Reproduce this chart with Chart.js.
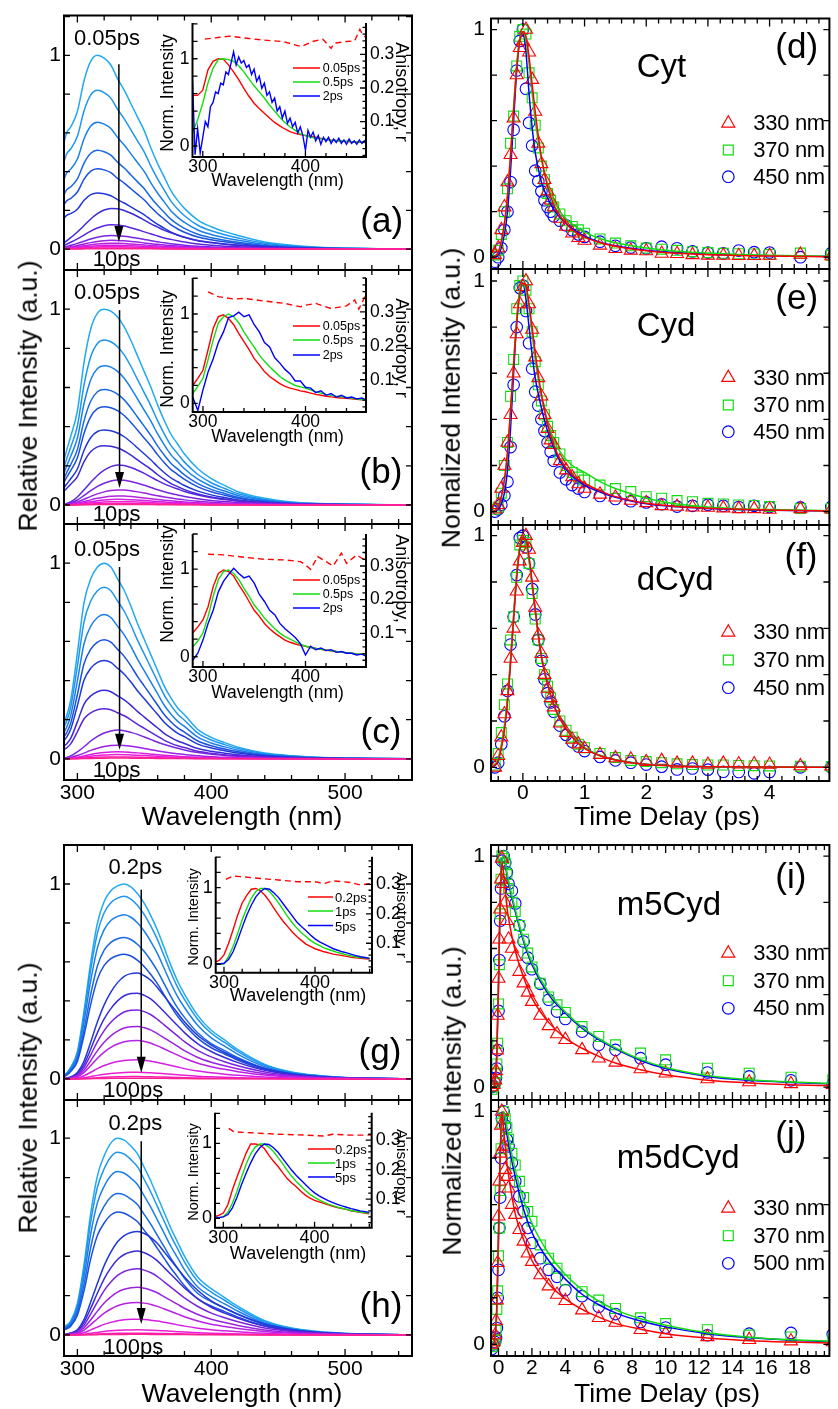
<!DOCTYPE html>
<html>
<head>
<meta charset="utf-8">
<title>Time-resolved fluorescence of cytosine derivatives</title>
<script src="https://cdn.jsdelivr.net/npm/chart.js@4.4.1/dist/chart.umd.min.js"></script>
<style>
  html, body { margin: 0; padding: 0; background: #fff; }
  body { position: relative; width: 838px; height: 1409px; overflow: hidden;
         font-family: "Liberation Sans", Arial, Helvetica, sans-serif; }
  canvas { position: absolute; left: 0; top: 0; }
  .t { position: absolute; white-space: nowrap; line-height: 1; color: #000; }
</style>
</head>
<body>
<script>
// ---------- spectra (left column) ----------
const WL = [290,292,295,300,305,310,315,320,325,330,335,340,345,350,355,360,365,370,375,380,390,400,410,420,440,460,480,500,525,550];

const A_EARLY = [0.55,0.6,0.63,0.71,0.87,0.97,1.0,0.985,0.95,0.88,0.82,0.75,0.68,0.61,0.52,0.44,0.37,0.3,0.25,0.21,0.15,0.115,0.09,0.07,0.037,0.02,0.01,0.005,0.002,0.0];
const A_LATE  = [0.15,0.2,0.28,0.42,0.58,0.74,0.87,0.96,1.0,0.99,0.95,0.88,0.8,0.71,0.62,0.54,0.46,0.4,0.34,0.29,0.21,0.16,0.12,0.095,0.055,0.03,0.016,0.008,0.003,0.0];
const AMP_A = [1.0,0.82,0.655,0.51,0.415,0.29,0.21,0.125,0.07,0.045,0.03,0.02,0.012,0.006,0.002];

const B_EARLY = [0.23,0.28,0.35,0.48,0.73,0.9,0.98,1.0,0.99,0.96,0.91,0.84,0.76,0.68,0.6,0.51,0.43,0.36,0.31,0.26,0.185,0.135,0.1,0.068,0.034,0.015,0.008,0.005,0.002,0.0];
const B_LATE  = [0.02,0.04,0.08,0.2,0.38,0.57,0.74,0.87,0.96,1.0,0.99,0.94,0.87,0.79,0.7,0.61,0.53,0.46,0.4,0.34,0.25,0.18,0.135,0.1,0.055,0.03,0.016,0.008,0.003,0.0];
const AMP_B = [1.0,0.842,0.711,0.59,0.502,0.383,0.303,0.204,0.128,0.077,0.046,0.029,0.017,0.008,0.003];

const C_EARLY = [0.185,0.22,0.3,0.54,0.8,0.92,0.98,1.0,0.98,0.92,0.86,0.78,0.69,0.61,0.53,0.45,0.37,0.31,0.26,0.225,0.15,0.11,0.083,0.06,0.03,0.016,0.008,0.004,0.002,0.0];
const C_LATE  = [0.03,0.05,0.1,0.24,0.42,0.62,0.78,0.9,0.97,1.0,0.98,0.92,0.85,0.76,0.67,0.58,0.5,0.43,0.37,0.31,0.22,0.16,0.12,0.09,0.05,0.027,0.014,0.007,0.003,0.0];
const AMP_C = [1.0,0.877,0.737,0.609,0.503,0.35,0.256,0.147,0.07,0.036,0.022,0.01,0.004];

const G_EARLY = [0.02,0.03,0.06,0.14,0.35,0.6,0.8,0.91,0.965,0.99,1.0,0.985,0.95,0.9,0.835,0.76,0.67,0.58,0.5,0.435,0.325,0.25,0.2,0.15,0.075,0.036,0.018,0.008,0.003,0.0];
const G_LATE  = [0.0,0.01,0.02,0.06,0.17,0.35,0.54,0.7,0.82,0.91,0.97,0.995,1.0,0.975,0.93,0.86,0.78,0.7,0.62,0.54,0.41,0.32,0.25,0.19,0.1,0.05,0.024,0.011,0.004,0.0];
const AMP_G = [1.0,0.937,0.842,0.726,0.64,0.543,0.44,0.354,0.269,0.197,0.098,0.034,0.012,0.004];

const H_EARLY = [0.04,0.05,0.07,0.16,0.36,0.62,0.81,0.91,0.975,1.0,0.99,0.96,0.92,0.85,0.78,0.7,0.62,0.54,0.47,0.4,0.293,0.235,0.19,0.145,0.072,0.035,0.017,0.008,0.003,0.0];
const H_LATE  = [0.0,0.01,0.02,0.05,0.15,0.32,0.5,0.67,0.8,0.9,0.96,0.99,1.0,0.98,0.94,0.88,0.8,0.72,0.64,0.56,0.43,0.33,0.26,0.2,0.105,0.052,0.025,0.011,0.004,0.0];
const AMP_H = [1.0,0.928,0.83,0.719,0.625,0.526,0.426,0.336,0.242,0.165,0.08,0.026,0.009,0.003];

// arrow: [wavelength, from, to]
const ARROW_A = [331, 0.954, 0.036];
const ARROW_B = [331.5, 0.995, 0.087];
const ARROW_C = [331.5, 0.98, 0.046];
const ARROW_G = [347.7, 0.97, 0.032];
const ARROW_H = [347.7, 0.985, 0.055];

// ---------- insets ----------
const WLI = [290,295,300,305,310,315,320,325,330,335,340,345,350,355,360,365,370,375,380,385,390,395,400,405,410,415,420,425,430,435,440,445,450,455,460];
const WLN = [290,292.5,295,297.5,300,302.5,305,307.5,310,312.5,315,317.5,320,322.5,325,327.5,330,332.5,335,337.5,340,342.5,345,347.5,350,352.5,355,357.5,360,362.5,365,367.5,370,372.5,375,377.5,380,382.5,385,387.5,390,392.5,395,397.5,400,402.5,405,407.5,410,412.5,415,417.5,420,422.5,425,427.5,430,432.5,435,437.5,440,442.5,445,447.5,450,452.5,455,457.5,460];

const IA_RED = [0.58,0.58,0.64,0.87,0.97,1.0,0.996,0.93,0.85,0.76,0.66,0.57,0.49,0.43,0.375,0.32,0.27,0.23,0.195,0.165,0.145,0.13,0.12,0.11,0.1,0.088,0.076,0.068,0.062,0.057,0.052,0.048,0.045,0.042,0.04];
const IA_GRN = [0.15,0.3,0.49,0.72,0.89,0.99,1.0,0.99,0.97,0.92,0.85,0.77,0.69,0.62,0.55,0.47,0.4,0.33,0.27,0.22,0.18,0.14,0.12,0.1,0.09,0.082,0.075,0.068,0.063,0.058,0.054,0.05,0.047,0.044,0.04];
const IA_BLU = [0.75,-0.1,0.2,-0.08,0.1,0.28,0.22,0.45,0.5,0.62,0.6,0.72,0.7,0.85,0.82,0.95,1.08,0.93,1.02,0.95,0.98,0.9,0.93,0.82,0.88,0.74,0.8,0.66,0.72,0.58,0.62,0.5,0.55,0.4,0.45,0.32,0.4,0.26,0.32,0.22,0.27,0.15,0.22,0.12,-0.05,0.18,0.1,0.16,0.06,0.12,0.02,0.1,0.05,0.1,0.03,0.08,0.04,0.09,0.03,0.07,0.02,0.08,0.03,0.06,0.02,0.07,0.03,0.06,0.04];
const ANI_A_WL = [302,315,326,345,360,378,396,407,417,425,428,440,448,453,456,459];
const ANI_A = [0.345,0.35,0.354,0.347,0.342,0.338,0.323,0.338,0.345,0.318,0.333,0.338,0.34,0.374,0.357,0.35];

const IB_RED = [0.2,0.28,0.37,0.6,0.84,0.97,0.99,0.95,0.88,0.78,0.69,0.6,0.5,0.43,0.355,0.3,0.26,0.22,0.19,0.17,0.157,0.14,0.13,0.115,0.1,0.09,0.08,0.072,0.066,0.06,0.056,0.05,0.045,0.04,0.037];
const IB_GRN = [0.11,0.19,0.28,0.49,0.71,0.9,0.97,1.0,0.97,0.9,0.8,0.71,0.63,0.54,0.47,0.41,0.355,0.3,0.26,0.23,0.2,0.185,0.17,0.15,0.13,0.115,0.1,0.09,0.08,0.072,0.067,0.06,0.05,0.043,0.037];
const IB_BLU = [0.07,-0.08,0.15,0.35,0.5,0.68,0.8,0.96,0.98,1.02,0.97,0.99,0.88,0.8,0.68,0.63,0.51,0.45,0.38,0.33,0.25,0.25,0.18,0.17,0.12,0.14,0.09,0.11,0.07,0.09,0.06,0.07,0.05,0.06,0.03];
const ANI_B_WL = [305,315,330,340,360,380,395,400,410,425,440,448,452,458];
const ANI_B = [0.359,0.345,0.338,0.34,0.332,0.325,0.315,0.32,0.325,0.31,0.318,0.335,0.308,0.345];

const IC_RED = [0.27,0.34,0.42,0.57,0.8,0.95,0.99,0.97,0.92,0.82,0.73,0.63,0.53,0.46,0.38,0.32,0.27,0.23,0.19,0.165,0.145,0.13,0.12,0.105,0.095,0.085,0.076,0.068,0.06,0.053,0.046,0.04,0.033,0.028,0.023];
const IC_GRN = [0.11,0.18,0.27,0.46,0.69,0.88,0.97,0.99,0.95,0.88,0.78,0.69,0.59,0.52,0.44,0.38,0.32,0.27,0.23,0.2,0.17,0.145,0.12,0.105,0.095,0.085,0.076,0.068,0.06,0.053,0.046,0.04,0.033,0.028,0.023];
const IC_BLU = [-0.04,0.04,0.19,0.38,0.53,0.74,0.86,0.94,1.01,0.95,0.9,0.92,0.84,0.71,0.63,0.53,0.48,0.38,0.32,0.27,0.22,0.15,0.02,0.12,0.08,0.1,0.07,0.08,0.05,0.06,0.04,0.04,0.02,0.03,0.0];
const ANI_C_WL = [305,320,340,360,380,395,400,405,412,420,427,435,440,450,460];
const ANI_C = [0.335,0.333,0.326,0.32,0.318,0.313,0.303,0.29,0.328,0.313,0.3,0.338,0.308,0.333,0.313];

const IG_RED = [0.02,0.05,0.12,0.27,0.45,0.64,0.8,0.9,0.98,0.99,0.96,0.9,0.82,0.73,0.64,0.56,0.49,0.42,0.36,0.31,0.26,0.23,0.2,0.18,0.16,0.145,0.13,0.12,0.11,0.1,0.087,0.08,0.074,0.069,0.065];
const IG_GRN = [0.0,0.0,0.0,0.1,0.23,0.4,0.58,0.73,0.86,0.95,0.99,0.99,0.95,0.88,0.8,0.71,0.62,0.54,0.47,0.41,0.36,0.31,0.27,0.24,0.21,0.19,0.17,0.15,0.135,0.12,0.105,0.095,0.086,0.08,0.074];
const IG_BLU = [-0.01,0.0,0.01,0.06,0.16,0.31,0.48,0.64,0.77,0.88,0.95,0.99,0.98,0.93,0.87,0.79,0.71,0.63,0.55,0.49,0.44,0.38,0.33,0.29,0.26,0.23,0.2,0.18,0.16,0.145,0.127,0.11,0.095,0.085,0.074];
const ANI_G_WL = [302,310,320,340,360,380,400,410,420,440,450,462];
const ANI_G = [0.317,0.328,0.326,0.32,0.315,0.309,0.309,0.303,0.312,0.306,0.298,0.303];

const IH_RED = [0.02,0.04,0.07,0.18,0.38,0.55,0.71,0.87,0.99,0.99,0.98,0.93,0.84,0.76,0.69,0.61,0.53,0.47,0.42,0.36,0.31,0.27,0.24,0.22,0.2,0.18,0.16,0.145,0.13,0.12,0.1,0.09,0.08,0.07,0.06];
const IH_GRN = [0.0,0.01,0.02,0.08,0.2,0.36,0.55,0.72,0.86,0.95,0.99,0.99,0.95,0.89,0.81,0.73,0.64,0.56,0.49,0.43,0.37,0.32,0.28,0.245,0.215,0.19,0.17,0.15,0.135,0.12,0.105,0.095,0.085,0.078,0.07];
const IH_BLU = [0.01,0.01,0.02,0.05,0.14,0.28,0.45,0.6,0.74,0.86,0.94,0.99,0.985,0.94,0.88,0.8,0.72,0.64,0.57,0.51,0.45,0.39,0.34,0.3,0.265,0.235,0.21,0.185,0.165,0.148,0.13,0.115,0.1,0.09,0.08];
const ANI_H_WL = [306,312,330,360,390,410,420,440,462];
const ANI_H = [0.34,0.328,0.325,0.32,0.317,0.314,0.32,0.317,0.317];

// ---------- decays (right column) ----------
const T_D = [-0.45,-0.4,-0.35,-0.3,-0.25,-0.2,-0.15,-0.1,-0.05,0,0.05,0.1,0.15,0.2,0.25,0.3,0.35,0.4,0.45,0.5,0.6,0.7,0.8,0.9,1.0,1.25,1.5,1.75,2.0,2.25,2.5,2.75,3.0,3.25,3.5,3.75,4.0,4.5,5.0];
const TF_D = [-0.5,-0.4,-0.3,-0.25,-0.2,-0.15,-0.1,-0.05,0,0.05,0.1,0.15,0.2,0.3,0.4,0.5,0.6,0.8,1.0,1.25,1.5,2,2.5,3,3.5,4,5];

const D330 = [0.01,0.04,0.12,0.22,0.33,0.45,0.61,0.8,0.92,0.95,1.0,0.9,0.78,0.64,0.5,0.41,0.34,0.29,0.25,0.22,0.17,0.135,0.105,0.085,0.073,0.052,0.037,0.03,0.027,0.016,0.015,0.01,0.008,0.007,0.006,0.006,0.007,0.012,0.005];
const D370 = [0.01,0.03,0.1,0.2,0.3,0.5,0.62,0.84,0.97,1.0,0.98,0.81,0.7,0.58,0.48,0.4,0.34,0.28,0.25,0.22,0.19,0.16,0.135,0.12,0.105,0.08,0.062,0.05,0.04,0.035,0.03,0.024,0.02,0.017,0.015,0.014,0.012,0.018,0.008];
const D450 = [-0.02,0.0,0.04,0.12,0.2,0.33,0.56,0.82,0.95,1.0,0.74,0.59,0.49,0.38,0.334,0.29,0.25,0.22,0.2,0.18,0.16,0.14,0.118,0.1,0.089,0.068,0.05,0.042,0.039,0.046,0.039,0.025,0.02,0.017,0.029,0.022,0.02,0.0,0.017];
const FD330 = [0.0,0.02,0.15,0.27,0.45,0.65,0.83,0.95,0.99,0.97,0.88,0.76,0.64,0.44,0.31,0.23,0.18,0.12,0.088,0.064,0.048,0.028,0.017,0.011,0.007,0.005,0.002];
const FD370 = [0.0,0.02,0.14,0.27,0.45,0.66,0.85,0.96,0.99,0.95,0.85,0.72,0.6,0.43,0.32,0.25,0.2,0.145,0.11,0.082,0.063,0.04,0.026,0.018,0.012,0.008,0.004];
const FD450 = [0.0,0.01,0.1,0.2,0.38,0.6,0.82,0.96,0.99,0.9,0.72,0.57,0.46,0.33,0.26,0.21,0.175,0.125,0.092,0.066,0.05,0.03,0.02,0.013,0.009,0.006,0.003];

const E330 = [0.01,0.03,0.1,0.2,0.3,0.42,0.6,0.77,0.9,0.975,1.0,0.9,0.79,0.67,0.58,0.5,0.42,0.36,0.31,0.29,0.22,0.18,0.15,0.12,0.1,0.075,0.062,0.048,0.038,0.025,0.022,0.019,0.018,0.015,0.012,0.012,0.009,0.012,0.01];
const E370 = [0.01,0.02,0.08,0.2,0.3,0.5,0.66,0.88,0.98,1.0,0.96,0.88,0.78,0.65,0.55,0.48,0.42,0.37,0.33,0.3,0.25,0.2,0.17,0.15,0.137,0.115,0.1,0.087,0.065,0.058,0.048,0.043,0.036,0.033,0.029,0.027,0.022,0.014,0.014];
const E450 = [0.0,0.01,0.03,0.07,0.13,0.28,0.55,0.8,0.97,0.98,0.87,0.73,0.62,0.52,0.46,0.4,0.35,0.3,0.26,0.22,0.17,0.14,0.115,0.1,0.085,0.068,0.055,0.045,0.04,0.032,0.022,0.025,0.03,0.025,0.02,0.025,0.02,0.018,0.02];
const FE330 = [0.0,0.02,0.14,0.26,0.44,0.64,0.82,0.94,0.99,0.98,0.9,0.8,0.69,0.51,0.38,0.29,0.23,0.16,0.123,0.09,0.065,0.036,0.022,0.015,0.01,0.007,0.003];
const FE370 = [0.0,0.02,0.13,0.25,0.44,0.65,0.84,0.96,0.99,0.96,0.88,0.77,0.66,0.5,0.39,0.31,0.26,0.2,0.17,0.13,0.1,0.058,0.033,0.02,0.013,0.009,0.004];
const FE450 = [0.0,0.01,0.08,0.18,0.36,0.6,0.82,0.96,0.99,0.92,0.8,0.68,0.58,0.45,0.35,0.28,0.22,0.155,0.115,0.085,0.062,0.034,0.021,0.014,0.009,0.006,0.003];

const F330 = [0.0,0.05,0.13,0.23,0.33,0.47,0.6,0.76,0.89,0.97,1.0,0.94,0.82,0.69,0.57,0.49,0.4,0.34,0.3,0.26,0.19,0.15,0.12,0.1,0.08,0.055,0.04,0.035,0.024,0.029,0.017,0.017,0.012,0.017,0.014,0.014,0.012,0.006,0.005];
const F370 = [0.01,0.06,0.15,0.27,0.36,0.55,0.65,0.82,0.96,0.98,0.97,0.88,0.75,0.64,0.55,0.47,0.4,0.35,0.3,0.25,0.2,0.16,0.13,0.1,0.085,0.06,0.042,0.03,0.025,0.02,0.015,0.012,0.01,0.01,0.008,0.007,0.006,0.005,0.004];
const F450 = [0.0,0.02,0.1,0.22,0.33,0.53,0.65,0.83,0.99,1.0,0.95,0.88,0.77,0.66,0.55,0.46,0.38,0.32,0.28,0.24,0.18,0.14,0.11,0.09,0.07,0.045,0.03,0.02,0.012,0.003,-0.009,-0.005,-0.01,-0.019,-0.02,-0.026,-0.02,0.0,0.0];
const FF330 = [0.0,0.03,0.16,0.28,0.45,0.64,0.82,0.94,0.99,0.98,0.91,0.8,0.68,0.48,0.36,0.27,0.21,0.13,0.082,0.05,0.032,0.012,0.006,0.003,0.002,0.001,0.0];
const FF370 = [0.0,0.04,0.18,0.3,0.47,0.66,0.84,0.95,0.99,0.97,0.89,0.78,0.67,0.48,0.36,0.27,0.21,0.135,0.085,0.052,0.033,0.013,0.006,0.003,0.002,0.001,0.0];
const FF450 = [0.0,0.03,0.17,0.29,0.46,0.65,0.83,0.95,0.99,0.97,0.9,0.79,0.68,0.48,0.36,0.27,0.21,0.133,0.084,0.051,0.033,0.013,0.006,0.003,0.002,0.001,0.0];

const T_I = [-0.4,-0.3,-0.2,-0.15,-0.1,-0.05,0,0.05,0.1,0.15,0.2,0.3,0.4,0.5,0.6,0.8,1.0,1.25,1.5,1.75,2,2.5,3,3.5,4,5,6,7,8.5,10,12.5,15,17.5,20];
const TF_I = [-0.5,-0.3,-0.2,-0.1,0,0.1,0.2,0.3,0.5,0.7,1,1.5,2,3,4,5,6,7,8.5,10,12.5,15,17.5,20];

const I330 = [0.0,0.01,0.03,0.07,0.16,0.31,0.47,0.64,0.77,0.9,0.99,0.88,0.8,0.72,0.64,0.6,0.565,0.5,0.45,0.41,0.37,0.31,0.265,0.23,0.205,0.161,0.125,0.107,0.078,0.06,0.035,0.022,0.014,0.01];
const I370 = [-0.01,0.0,0.02,0.06,0.1,0.19,0.36,0.53,0.75,0.9,1.0,0.99,0.97,0.92,0.86,0.8,0.76,0.7,0.64,0.58,0.52,0.45,0.39,0.356,0.323,0.262,0.219,0.183,0.147,0.118,0.082,0.06,0.043,0.032];
const I450 = [0.0,0.005,0.02,0.04,0.08,0.16,0.33,0.55,0.72,0.86,0.98,1.0,0.97,0.93,0.88,0.85,0.795,0.7,0.63,0.56,0.51,0.447,0.378,0.327,0.295,0.24,0.183,0.161,0.125,0.097,0.063,0.046,0.029,0.014];
const FI330 = [0.0,0.0,0.03,0.15,0.45,0.8,0.97,0.93,0.78,0.69,0.59,0.475,0.385,0.28,0.212,0.168,0.133,0.104,0.075,0.053,0.03,0.018,0.01,0.006];
const FI370 = [0.0,0.0,0.03,0.15,0.45,0.82,0.98,1.0,0.93,0.86,0.77,0.64,0.54,0.41,0.325,0.26,0.21,0.17,0.12,0.085,0.05,0.032,0.022,0.015];
const FI450 = [0.0,0.0,0.03,0.15,0.45,0.82,0.98,1.0,0.92,0.85,0.76,0.63,0.53,0.4,0.32,0.255,0.205,0.165,0.115,0.08,0.046,0.029,0.02,0.014];

const J330 = [0.0,0.01,0.04,0.1,0.19,0.35,0.55,0.7,0.82,0.94,1.0,0.85,0.75,0.72,0.67,0.6,0.557,0.492,0.442,0.391,0.355,0.298,0.25,0.214,0.187,0.147,0.114,0.094,0.063,0.046,0.032,0.02,0.014,0.01];
const J370 = [-0.01,0.0,0.02,0.06,0.15,0.23,0.38,0.5,0.66,0.84,0.95,1.0,0.97,0.93,0.88,0.82,0.77,0.7,0.63,0.57,0.528,0.427,0.37,0.327,0.276,0.226,0.19,0.154,0.114,0.089,0.063,0.04,0.032,0.02];
const J500 = [-0.02,0.0,0.01,0.03,0.07,0.2,0.32,0.5,0.63,0.8,0.97,1.0,0.94,0.88,0.85,0.78,0.7,0.636,0.571,0.5,0.435,0.37,0.32,0.29,0.233,0.207,0.161,0.13,0.096,0.072,0.039,0.046,0.049,0.043];
const FJ330 = [0.0,0.0,0.04,0.18,0.5,0.82,1.0,0.93,0.78,0.68,0.56,0.45,0.36,0.26,0.195,0.15,0.117,0.09,0.065,0.046,0.027,0.016,0.01,0.006];
const FJ370 = [0.0,0.0,0.03,0.15,0.45,0.8,0.97,1.0,0.93,0.85,0.75,0.62,0.52,0.39,0.3,0.235,0.185,0.148,0.11,0.082,0.05,0.031,0.02,0.013];
const FJ500 = [0.0,0.0,0.03,0.15,0.45,0.8,0.97,1.0,0.9,0.82,0.72,0.58,0.48,0.36,0.28,0.215,0.17,0.135,0.1,0.075,0.046,0.029,0.018,0.012];

// ---------- tick labels ----------
const WL_TICKS = [300, 400, 500];
const WLI_TICKS = [300, 400];
const INT_TICKS = [0, 1];
const ANI_TICKS = [0.1, 0.2, 0.3];
const DELAY_TICKS = [0, 1, 2, 3, 4];
const DELAY_TICKS_LONG = [0, 2, 4, 6, 8, 10, 12, 14, 16, 18];

// ---------- styling ----------
const W = 838, H = 1409;
const FONT = '"Liberation Sans", Arial, Helvetica, sans-serif';
const PALETTE = ['#22aaf0','#1e95ee','#1b7fea','#1a68e4','#1b50de','#2038d8','#3a2ad8','#5a26dc','#7a24e0','#9a22e2','#b820e4','#d41ee2','#ec1cd4','#fa1cb4','#ff2090'];
const RED = '#ff0000', GREEN = '#11dd11', BLUE = '#0000ff';
const MARKS = [
  {style: 'triangle', r: 7.5, color: RED},
  {style: 'rect', r: 7, color: GREEN},
  {style: 'circle', r: 5.8, color: BLUE}
];
Chart.defaults.font.family = FONT;
Chart.defaults.color = '#000';

function pts(xs, ys) { return xs.map((x, i) => ({x: x, y: ys[i]})); }
function stepTicks(min, max, step) {
  const out = [];
  for (let k = Math.ceil(min / step - 1e-9); k <= Math.floor(max / step + 1e-9); k++) out.push(+(k * step).toFixed(6));
  return out;
}
function hasTick(list, v) { return list.some(m => Math.abs(m - v) < 1e-6); }

function axis(o) {
  return {
    type: 'linear', position: o.pos, min: o.min, max: o.max, bounds: 'data',
    grid: {display: false, drawTicks: false}, border: {display: false},
    afterBuildTicks: s => { s.ticks = stepTicks(o.min, o.max, o.step).map(v => ({value: v})); },
    afterFit: s => { if (s.isHorizontal()) s.height = o.size; else s.width = o.size; },
    ticks: {
      display: o.show !== false, autoSkip: false, maxRotation: 0, minRotation: 0,
      padding: o.pad, color: '#000', font: {size: o.font, family: FONT},
      callback: v => hasTick(o.labels, v) ? String(v) : ''
    }
  };
}

// inward ticks, frame lines and extra drawing
function framePlugin(conf) {
  return {
    id: 'frame',
    afterDraw(chart) {
      const ctx = chart.ctx, a = chart.chartArea;
      ctx.save();
      ctx.strokeStyle = '#000';
      ctx.lineWidth = 1.3;
      ctx.beginPath();
      conf.ticks.forEach(t => {
        const s = chart.scales[t.axis];
        s.ticks.forEach(tk => {
          const len = hasTick(t.major, tk.value) ? t.len : t.minor;
          const p = s.getPixelForValue(tk.value);
          if (s.isHorizontal()) {
            ctx.moveTo(p, a.bottom); ctx.lineTo(p, a.bottom - len);
            if (t.mirror) { ctx.moveTo(p, a.top); ctx.lineTo(p, a.top + len); }
          } else if (s.position === 'left') {
            ctx.moveTo(a.left, p); ctx.lineTo(a.left + len, p);
            if (t.mirror) { ctx.moveTo(a.right, p); ctx.lineTo(a.right - len, p); }
          } else {
            ctx.moveTo(a.right, p); ctx.lineTo(a.right - len, p);
          }
        });
      });
      ctx.stroke();
      ctx.lineWidth = 2;
      ctx.beginPath();
      if (conf.sides.includes('top')) { ctx.moveTo(a.left - 1, a.top); ctx.lineTo(a.right + 1, a.top); }
      if (conf.sides.includes('bottom')) { ctx.moveTo(a.left - 1, a.bottom); ctx.lineTo(a.right + 1, a.bottom); }
      if (conf.sides.includes('left')) { ctx.moveTo(a.left, a.top); ctx.lineTo(a.left, a.bottom); }
      if (conf.sides.includes('right')) { ctx.moveTo(a.right, a.top); ctx.lineTo(a.right, a.bottom); }
      ctx.stroke();
      if (conf.extra) conf.extra(ctx, chart);
      ctx.restore();
    }
  };
}

function makeChart(fr, scales, datasets, conf) {
  const c = document.createElement('canvas');
  c.width = W; c.height = H;
  document.body.appendChild(c);
  return new Chart(c, {
    type: 'scatter',
    data: {datasets: datasets},
    options: {
      responsive: false, animation: false, devicePixelRatio: 1, events: [],
      layout: {padding: {left: fr.l - fr.yw, right: W - fr.r - (fr.y2w || 0), top: fr.t, bottom: H - fr.b - fr.xh}},
      plugins: {legend: {display: false}, tooltip: {enabled: false}},
      scales: scales
    },
    plugins: [framePlugin(conf)]
  });
}

function drawArrow(ctx, chart, ar) {
  const x = chart.scales.x.getPixelForValue(ar[0]);
  const y0 = chart.scales.y.getPixelForValue(ar[1]);
  const y1 = chart.scales.y.getPixelForValue(ar[2]);
  ctx.strokeStyle = '#000'; ctx.fillStyle = '#000'; ctx.lineWidth = 1.5;
  ctx.beginPath(); ctx.moveTo(x, y0); ctx.lineTo(x, y1 - 10); ctx.stroke();
  ctx.beginPath(); ctx.moveTo(x - 4.5, y1 - 16); ctx.lineTo(x + 4.5, y1 - 16); ctx.lineTo(x, y1); ctx.closePath(); ctx.fill();
}

// ---------- spectra panels ----------
function spectraPanel(p) {
  const n = p.amps.length;
  const sets = p.amps.map((amp, i) => ({
    data: pts(WL, (i < p.lateFrom ? p.early : p.late).map(v => +(v * amp).toFixed(5))),
    showLine: true, borderColor: PALETTE[Math.round(i * (PALETTE.length - 1) / (n - 1))],
    borderWidth: 1.5, pointRadius: 0, cubicInterpolationMode: 'monotone'
  })).reverse();
  makeChart(
    {l: 64, r: 412, t: p.t, b: p.b, yw: 40, xh: 30},
    {
      x: axis({pos: 'bottom', min: 290, max: 550, step: 20, labels: WL_TICKS, size: 30, font: 21, show: p.showX, pad: 1}),
      y: axis({pos: 'left', min: p.y[0], max: p.y[1], step: 0.2, labels: INT_TICKS, size: 40, font: 21, pad: 3})
    },
    sets,
    {
      sides: ['top', 'bottom', 'left', 'right'],
      ticks: [
        {axis: 'x', major: WL_TICKS, len: 7, minor: 5, mirror: true},
        {axis: 'y', major: INT_TICKS, len: 6, minor: 6, mirror: true}
      ],
      extra: (ctx, chart) => drawArrow(ctx, chart, p.arrow)
    }
  );
}

spectraPanel({t: 14, b: 270, y: [-0.108, 1.205], amps: AMP_A, early: A_EARLY, late: A_LATE, lateFrom: 6, arrow: ARROW_A, showX: false});
spectraPanel({t: 270, b: 524, y: [-0.097, 1.2], amps: AMP_B, early: B_EARLY, late: B_LATE, lateFrom: 7, arrow: ARROW_B, showX: false});
spectraPanel({t: 524, b: 780, y: [-0.108, 1.2], amps: AMP_C, early: C_EARLY, late: C_LATE, lateFrom: 7, arrow: ARROW_C, showX: true});
spectraPanel({t: 845, b: 1100, y: [-0.108, 1.2], amps: AMP_G, early: G_EARLY, late: G_LATE, lateFrom: 5, arrow: ARROW_G, showX: false});
spectraPanel({t: 1100, b: 1356, y: [-0.107, 1.194], amps: AMP_H, early: H_EARLY, late: H_LATE, lateFrom: 5, arrow: ARROW_H, showX: true});

// ---------- insets ----------
function insetPanel(p) {
  const line = (xs, ys, col, extra) => Object.assign({data: pts(xs, ys), showLine: true, borderColor: col, borderWidth: 1.4, pointRadius: 0}, extra || {});
  const sets = [
    line(p.aniWl, p.ani, RED, {yAxisID: 'y2', borderDash: [6, 4]}),
    line(p.bluWl, p.blu, BLUE),
    line(WLI, p.grn, GREEN),
    line(WLI, p.red, RED)
  ];
  makeChart(
    {l: p.l, r: p.r, t: p.t, b: p.b, yw: 24, y2w: 34, xh: 20},
    {
      x: axis({pos: 'bottom', min: p.x[0], max: p.x[1], step: 20, labels: WLI_TICKS, size: 20, font: p.font, pad: 0}),
      y: axis({pos: 'left', min: p.y[0], max: p.y[1], step: 0.2, labels: INT_TICKS, size: 24, font: p.font, pad: 3}),
      y2: axis({pos: 'right', min: p.y2[0], max: p.y2[1], step: 0.02, labels: ANI_TICKS, size: 34, font: p.font, pad: 4})
    },
    sets,
    {
      sides: ['left', 'right', 'bottom'],
      ticks: [
        {axis: 'x', major: WLI_TICKS, len: 6, minor: 4},
        {axis: 'y', major: INT_TICKS, len: 5, minor: 5},
        {axis: 'y2', major: ANI_TICKS, len: 6, minor: 3.5}
      ],
      extra: (ctx) => {
        ctx.lineWidth = 1.5;
        [RED, GREEN, BLUE].forEach((col, i) => {
          ctx.strokeStyle = col;
          ctx.beginPath(); ctx.moveTo(p.leg.x0, p.leg.ys[i]); ctx.lineTo(p.leg.x1, p.leg.ys[i]); ctx.stroke();
        });
      }
    }
  );
}

insetPanel({l: 192.5, r: 366, t: 23, b: 157, x: [290, 459], y: [-0.126, 1.41], y2: [-0.005, 0.393], font: 17.5,
  red: IA_RED, grn: IA_GRN, blu: IA_BLU, bluWl: WLN, ani: ANI_A, aniWl: ANI_A_WL, leg: {x0: 293, x1: 320, ys: [68, 82, 96]}});
insetPanel({l: 192.7, r: 366, t: 278, b: 412, x: [290, 459], y: [-0.097, 1.403], y2: [0.005, 0.4], font: 17.5,
  red: IB_RED, grn: IB_GRN, blu: IB_BLU, bluWl: WLI, ani: ANI_B, aniWl: ANI_B_WL, leg: {x0: 293, x1: 320, ys: [326, 340, 355]}});
insetPanel({l: 192.7, r: 366, t: 534, b: 667, x: [290, 459], y: [-0.117, 1.4], y2: [0.0, 0.395], font: 17.5,
  red: IC_RED, grn: IC_GRN, blu: IC_BLU, bluWl: WLI, ani: ANI_C, aniWl: ANI_C_WL, leg: {x0: 293, x1: 320, ys: [580, 594, 608]}});
insetPanel({l: 215.7, r: 372, t: 856.7, b: 972.7, x: [290.9, 462.6], y: [-0.114, 1.406], y2: [0.0, 0.394], font: 18,
  red: IG_RED, grn: IG_GRN, blu: IG_BLU, bluWl: WLI, ani: ANI_G, aniWl: ANI_G_WL, leg: {x0: 308, x1: 333, ys: [897, 911, 925.5]}});
insetPanel({l: 215, r: 371.7, t: 1112.7, b: 1227.7, x: [290.9, 462.6], y: [-0.125, 1.408], y2: [0.003, 0.393], font: 18,
  red: IH_RED, grn: IH_GRN, blu: IH_BLU, bluWl: WLI, ani: ANI_H, aniWl: ANI_H_WL, leg: {x0: 308, x1: 335, ys: [1149, 1163, 1177]}});

// ---------- decay panels ----------
function decayPanel(p) {
  const fits = p.fits.map((ys, i) => ({
    data: pts(p.tf, ys), showLine: true, borderColor: MARKS[i].color, borderWidth: 1.5,
    pointRadius: 0, cubicInterpolationMode: 'monotone'
  }));
  const marks = p.marks.map((ys, i) => ({
    data: pts(p.t, ys), showLine: false, pointStyle: MARKS[i].style, pointRadius: MARKS[i].r,
    pointBorderColor: MARKS[i].color, pointBackgroundColor: 'rgba(0,0,0,0)', pointBorderWidth: 1.1,
    borderColor: MARKS[i].color
  }));
  makeChart(
    {l: 491, r: 837, t: p.top, b: p.bot, yw: 40, xh: 30},
    {
      x: axis({pos: 'bottom', min: p.x[0], max: p.x[1], step: p.step, labels: p.labels, size: 30, font: 21, show: p.showX, pad: 0}),
      y: axis({pos: 'left', min: p.y[0], max: p.y[1], step: 0.2, labels: INT_TICKS, size: 40, font: 21, pad: 6})
    },
    fits.concat(marks),
    {
      sides: ['top', 'bottom', 'left', 'right'],
      ticks: [
        {axis: 'x', major: p.labels, len: 8, minor: 5, mirror: true},
        {axis: 'y', major: INT_TICKS, len: 6, minor: 6, mirror: true}
      ],
      extra: (ctx) => {
        MARKS.forEach((m, i) => {
          ctx.strokeStyle = m.color; ctx.fillStyle = 'rgba(0,0,0,0)'; ctx.lineWidth = 1.2;
          Chart.helpers.drawPoint(ctx, {pointStyle: m.style, radius: m.r, borderWidth: 1.2, rotation: 0}, 728.3, p.legY[i]);
        });
      }
    }
  );
}

decayPanel({top: 15, bot: 269, x: [-0.517, 4.97], y: [-0.052, 1.048], step: 0.2, labels: DELAY_TICKS, showX: false,
  t: T_D, tf: TF_D, marks: [D330, D370, D450], fits: [FD330, FD370, FD450], legY: [123.3, 150, 176.7]});
decayPanel({top: 269, bot: 525, x: [-0.517, 4.97], y: [-0.058, 1.052], step: 0.2, labels: DELAY_TICKS, showX: false,
  t: T_D, tf: TF_D, marks: [E330, E370, E450], fits: [FE330, FE370, FE450], legY: [377.7, 405, 431.7]});
decayPanel({top: 525, bot: 781, x: [-0.517, 4.97], y: [-0.059, 1.046], step: 0.2, labels: DELAY_TICKS, showX: true,
  t: T_D, tf: TF_D, marks: [F330, F370, F450], fits: [FF330, FF370, FF450], legY: [632.3, 660, 687.7]});
decayPanel({top: 845, bot: 1100, x: [-0.45, 19.8], y: [-0.056, 1.048], step: 0.5, labels: DELAY_TICKS_LONG, showX: false,
  t: T_I, tf: TF_I, marks: [I330, I370, I450], fits: [FI330, FI370, FI450], legY: [953.3, 980.7, 1008.3]});
decayPanel({top: 1100, bot: 1356, x: [-0.45, 19.8], y: [-0.05, 1.049], step: 0.5, labels: DELAY_TICKS_LONG, showX: true,
  t: T_I, tf: TF_I, marks: [J330, J370, J500], fits: [FJ330, FJ370, FJ500], legY: [1208.3, 1235.7, 1263.3]});

// ---------- text ----------
function txt(s, x, y, size, opt) {
  opt = opt || {};
  const d = document.createElement('div');
  d.className = 't';
  d.textContent = s;
  d.style.left = x + 'px';
  d.style.top = y + 'px';
  d.style.fontSize = size + 'px';
  if (opt.ls) d.style.letterSpacing = opt.ls + 'px';
  let tf = opt.left ? 'translate(0,-50%)' : 'translate(-50%,-50%)';
  if (opt.rot) tf += ' rotate(' + opt.rot + 'deg)';
  d.style.transform = tf;
  document.body.appendChild(d);
}

// axis titles
txt('Relative Intensity (a.u.)', 28, 396, 26.5, {rot: -90});
txt('Relative Intensity (a.u.)', 28, 1098, 26.5, {rot: -90});
txt('Nomalized Intensity (a.u.)', 451, 397.5, 26.5, {rot: -90});
txt('Normalized Intensity (a.u.)', 452, 1101, 26.5, {rot: -90});
txt('Wavelength (nm)', 242, 816, 26.5);
txt('Wavelength (nm)', 242, 1393, 26.5);
txt('Time Delay (ps)', 667, 816, 26.5);
txt('Time Delay (ps)', 667, 1393, 26.5);

// panel letters
[['(a)', 381.7, 219], ['(b)', 381, 470], ['(c)', 381, 730], ['(d)', 796.7, 45], ['(e)', 796.7, 296],
 ['(f)', 801, 555], ['(g)', 380, 1050], ['(h)', 381, 1304], ['(i)', 790.8, 875], ['(j)', 790.8, 1133]]
  .forEach(l => txt(l[0], l[1], l[2], 35));

// delay annotations
[['0.05ps', 107, 37.8], ['10ps', 116.7, 258.7], ['0.05ps', 107, 291.7], ['10ps', 116.7, 514],
 ['0.05ps', 107, 549], ['10ps', 116.7, 770], ['0.2ps', 135.3, 866.7], ['100ps', 133.3, 1090],
 ['0.2ps', 135.3, 1122.5], ['100ps', 133.3, 1346.7]].forEach(l => txt(l[0], l[1], l[2], 22));

// molecules
[['Cyt', 636.7, 65], ['Cyd', 636.7, 324], ['dCyd', 636.7, 578], ['m5Cyd', 616.7, 902.5], ['m5dCyd', 616.7, 1156]]
  .forEach(l => txt(l[0], l[1], l[2], 33, {left: true}));

// decay legends
[[123.3, 150, 176.7, '450 nm'], [377.7, 405, 431.7, '450 nm'], [632.3, 660, 687.7, '450 nm'],
 [953.3, 980.7, 1008.3, '450 nm'], [1208.3, 1235.7, 1263.3, '500 nm']].forEach(r => {
  txt('330 nm', 753.3, r[0], 22, {left: true, ls: -0.3});
  txt('370 nm', 753.3, r[1], 22, {left: true, ls: -0.3});
  txt(r[3], 753.3, r[2], 22, {left: true, ls: -0.3});
});

// inset titles and legends
[[167.5, 92.5, 401.7, 91.5, 277.5, 181], [167.5, 348.5, 402, 347.5, 277.5, 436.7], [167.5, 584, 402, 584, 277.5, 692.5]]
  .forEach(p => {
    txt('Norm. Intensity', p[0], p[1], 17.5, {rot: -90});
    txt('Anisotropy, r', p[2], p[3], 18, {rot: 90});
    txt('Wavelength (nm)', p[4], p[5], 17.5);
  });
[[192.5, 916.7, 401.7, 915, 298, 995], [192.5, 1171.7, 402, 1172, 298, 1252.5]]
  .forEach(p => {
    txt('Norm. Intensity', p[0], p[1], 14.5, {rot: -90});
    txt('Anisotropy, r', p[2], p[3], 15.5, {rot: 90});
    txt('Wavelength (nm)', p[4], p[5], 18);
  });
[[68, 82, 96], [326, 340, 355], [580, 594, 608]].forEach(r => {
  txt('0.05ps', 322.7, r[0], 12.5, {left: true});
  txt('0.5ps', 322.7, r[1], 12.5, {left: true});
  txt('2ps', 322.7, r[2], 12.5, {left: true});
});
[[897, 911, 925.5], [1149, 1163, 1177]].forEach(r => {
  txt('0.2ps', 335, r[0], 13, {left: true});
  txt('1ps', 335, r[1], 13, {left: true});
  txt('5ps', 335, r[2], 13, {left: true});
});
</script>
</body>
</html>
